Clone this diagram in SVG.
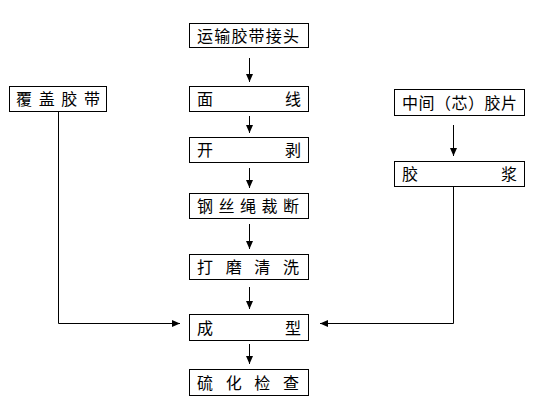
<svg xmlns="http://www.w3.org/2000/svg" width="537" height="419" viewBox="0 0 537 419">
<style>
.box{fill:#fff;stroke:#000;stroke-width:1}
.t{font-family:"Noto Sans CJK SC","Liberation Sans",sans-serif;font-size:16px;fill:#000}
.c{fill:none;stroke:#000;stroke-width:1}
</style>
<defs>
<marker id="ah" markerUnits="userSpaceOnUse" markerWidth="8" markerHeight="8" refX="8" refY="3.5" orient="auto">
<path d="M0,0 L8,3.5 L0,7 z" fill="#000"/>
</marker>
</defs>
<rect width="537" height="419" fill="#fff"/>
<g id="connectors">
<path class="c" d="M249.5,58 V82" marker-end="url(#ah)"/>
<path class="c" d="M249.5,116 V133" marker-end="url(#ah)"/>
<path class="c" d="M249.5,168 V188" marker-end="url(#ah)"/>
<path class="c" d="M249.5,224 V249" marker-end="url(#ah)"/>
<path class="c" d="M249.5,287 V309" marker-end="url(#ah)"/>
<path class="c" d="M249.5,344 V364" marker-end="url(#ah)"/>
<path class="c" d="M453.5,125 V156" marker-end="url(#ah)"/>
<path class="c" d="M58.5,111 V323.5 H180" marker-end="url(#ah)"/>
<path class="c" d="M453.5,186 V323.5 H320" marker-end="url(#ah)"/>
</g>
<g id="n1"><rect class="box" x="189.5" y="23.5" width="119" height="24"/><text class="t" x="197" y="42" textLength="102" lengthAdjust="spacing">运输胶带接头</text></g>
<g id="n2"><rect class="box" x="189.5" y="86.5" width="119" height="25"/><text class="t" x="197" y="105" textLength="104" lengthAdjust="spacing">面线</text></g>
<g id="n3"><rect class="box" x="189.5" y="137.5" width="119" height="25"/><text class="t" x="197" y="156" textLength="104" lengthAdjust="spacing">开剥</text></g>
<g id="n4"><rect class="box" x="189.5" y="193.5" width="119" height="25"/><text class="t" x="197" y="212" textLength="102" lengthAdjust="spacing">钢丝绳裁断</text></g>
<g id="n5"><rect class="box" x="189.5" y="254.5" width="119" height="25"/><text class="t" x="197" y="273" textLength="102" lengthAdjust="spacing">打磨清洗</text></g>
<g id="n6"><rect class="box" x="189.5" y="314.5" width="119" height="26"/><text class="t" x="197" y="334" textLength="104" lengthAdjust="spacing">成型</text></g>
<g id="n7"><rect class="box" x="189.5" y="369.5" width="119" height="26"/><text class="t" x="197" y="389" textLength="102" lengthAdjust="spacing">硫化检查</text></g>
<g id="n8"><rect class="box" x="9.5" y="86.5" width="97" height="25"/><text class="t" x="16" y="105" textLength="84" lengthAdjust="spacing">覆盖胶带</text></g>
<g id="n9"><rect class="box" x="394.5" y="89.5" width="130" height="26"/><text class="t" x="402" y="109" textLength="115" lengthAdjust="spacing">中间（芯）胶片</text></g>
<g id="n10"><rect class="box" x="394.5" y="161.5" width="130" height="25"/><text class="t" x="402" y="180" textLength="115" lengthAdjust="spacing">胶浆</text></g>
</svg>
